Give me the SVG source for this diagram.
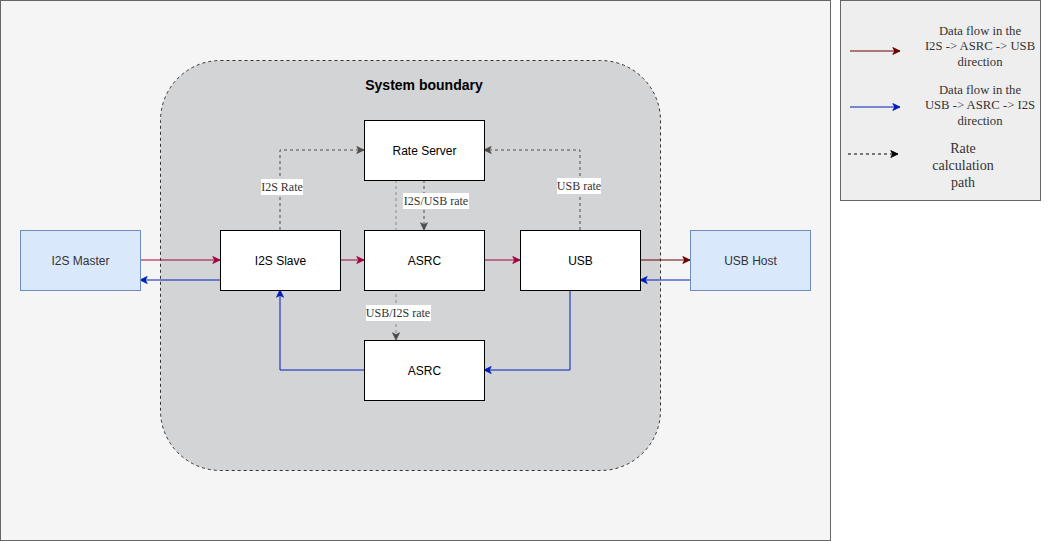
<svg xmlns="http://www.w3.org/2000/svg" width="1051" height="541" viewBox="0 0 1051 541">
<style>
.node rect{fill:#ffffff;stroke:#000000;stroke-width:1}
.ext rect{fill:#dae8fc;stroke:#6c8ebf;stroke-width:1}
.nt{font-family:"Liberation Sans",Arial,sans-serif;font-size:12px;fill:#000;text-anchor:middle;dominant-baseline:central}
.ext .nt{fill:#333}
.red{stroke:#A50040;stroke-width:1;fill:none}
.dred{stroke:#6F0000;stroke-width:1;fill:none}
.blue{stroke:#001DBC;stroke-width:1;fill:none}
.dash{stroke:#4d4d4d;stroke-width:1;fill:none;stroke-dasharray:3 3}
.dashl{stroke:#8a8a8a;stroke-width:1;fill:none;stroke-dasharray:3 3}
.el{font-family:"Liberation Serif","Times New Roman",serif;font-size:12px;fill:#333;text-anchor:middle;dominant-baseline:central}
.lg{font-family:"Liberation Serif","Times New Roman",serif;font-size:12.7px;fill:#333;text-anchor:middle}
.lgb{font-family:"Liberation Serif","Times New Roman",serif;font-size:14px;fill:#333;text-anchor:middle}
</style>
<defs>
<marker id="aRed" viewBox="0 0 10 10" refX="9" refY="5" markerWidth="9" markerHeight="9" markerUnits="userSpaceOnUse" orient="auto"><path d="M1,1.2 L9,5 L1,8.8 L3.2,5 Z" fill="#A50040" stroke="#A50040"/></marker>
<marker id="aDred" viewBox="0 0 10 10" refX="9" refY="5" markerWidth="9" markerHeight="9" markerUnits="userSpaceOnUse" orient="auto"><path d="M1,1.2 L9,5 L1,8.8 L3.2,5 Z" fill="#6F0000" stroke="#6F0000"/></marker>
<marker id="aBlue" viewBox="0 0 10 10" refX="9" refY="5" markerWidth="9" markerHeight="9" markerUnits="userSpaceOnUse" orient="auto"><path d="M1,1.2 L9,5 L1,8.8 L3.2,5 Z" fill="#001DBC" stroke="#001DBC"/></marker>
<marker id="aGray" viewBox="0 0 10 10" refX="9" refY="5" markerWidth="9" markerHeight="9" markerUnits="userSpaceOnUse" orient="auto"><path d="M1,1.2 L9,5 L1,8.8 L3.2,5 Z" fill="#4d4d4d" stroke="#4d4d4d"/></marker>
<marker id="aBlack" viewBox="0 0 10 10" refX="9" refY="5" markerWidth="9" markerHeight="9" markerUnits="userSpaceOnUse" orient="auto"><path d="M1,1.2 L9,5 L1,8.8 L3.2,5 Z" fill="#000" stroke="#000"/></marker>
</defs>

<g id="background">
<rect x="0.5" y="0.5" width="830" height="540" fill="#f5f5f5" stroke="#666666"/>
</g>
<g id="system-boundary">
<rect x="160.5" y="60.5" width="500" height="410" rx="60" ry="60" fill="#d3d4d6" stroke="#333333" stroke-dasharray="3 3"/>
<text x="424" y="85" font-family="'Liberation Sans',Arial,sans-serif" font-size="14" font-weight="bold" fill="#000" text-anchor="middle" dominant-baseline="central">System boundary</text>
</g>

<g id="connectors">
<path class="dashl" d="M396,180 V340" marker-end="url(#aGray)"/>
<path class="red" d="M140,260 H220" marker-end="url(#aRed)"/>
<path class="red" d="M340,260 H364" marker-end="url(#aRed)"/>
<path class="red" d="M484,260 H520" marker-end="url(#aRed)"/>
<path class="dred" d="M640,260 H690" marker-end="url(#aDred)"/>
<path class="blue" d="M220,280 H140" marker-end="url(#aBlue)"/>
<path class="blue" d="M690,280 H640" marker-end="url(#aBlue)"/>
<path class="blue" d="M570,290 V370 H484" marker-end="url(#aBlue)"/>
<path class="blue" d="M364,370 H280 V290" marker-end="url(#aBlue)"/>
<path class="dash" d="M280,230 V150 H364" marker-end="url(#aGray)"/>
<path class="dash" d="M580,230 V150 H484" marker-end="url(#aGray)"/>
<path class="dash" d="M424,180 V230" marker-end="url(#aGray)"/>
<rect x="261" y="179" width="42" height="16" fill="#fff"/>
<text class="el" x="282" y="187">I2S Rate</text>
<rect x="557" y="178" width="44" height="16" fill="#fff"/>
<text class="el" x="579" y="186">USB rate</text>
<rect x="403" y="193" width="66" height="16" fill="#fff"/>
<text class="el" x="436" y="201">I2S/USB rate</text>
<rect x="366" y="305" width="65" height="16" fill="#fff"/>
<text class="el" x="398" y="313">USB/I2S rate</text>
</g>

<g id="i2s-master" class="ext"><rect x="20.5" y="230.5" width="120" height="60"/><text class="nt" x="80.5" y="260.5">I2S Master</text></g>
<g id="i2s-slave" class="node"><rect x="220.5" y="230.5" width="120" height="60"/><text class="nt" x="280.5" y="260.5">I2S Slave</text></g>
<g id="asrc-top" class="node"><rect x="364.5" y="230.5" width="120" height="60"/><text class="nt" x="424.5" y="260.5">ASRC</text></g>
<g id="usb" class="node"><rect x="520.5" y="230.5" width="120" height="60"/><text class="nt" x="580.5" y="260.5">USB</text></g>
<g id="usb-host" class="ext"><rect x="690.5" y="230.5" width="120" height="60"/><text class="nt" x="750.5" y="260.5">USB Host</text></g>
<g id="rate-server" class="node"><rect x="364.5" y="120.5" width="120" height="60"/><text class="nt" x="424.5" y="150.5">Rate Server</text></g>
<g id="asrc-bottom" class="node"><rect x="364.5" y="340.5" width="120" height="60"/><text class="nt" x="424.5" y="370.5">ASRC</text></g>

<g id="legend">
<rect x="840.5" y="0.5" width="200" height="200" fill="#eeeeee" stroke="#666666"/>
<path class="dred" d="M850,51 H900" marker-end="url(#aDred)"/>
<text class="lg" x="980" y="34.5">Data flow in the</text>
<text class="lg" x="980" y="50">I2S -&gt; ASRC -&gt; USB</text>
<text class="lg" x="980" y="65.5">direction</text>
<path class="blue" d="M850,107 H900" marker-end="url(#aBlue)"/>
<text class="lg" x="980" y="93.5">Data flow in the</text>
<text class="lg" x="980" y="109">USB -&gt; ASRC -&gt; I2S</text>
<text class="lg" x="980" y="124.5">direction</text>
<path d="M848,154 H898" stroke="#000" stroke-width="1" fill="none" stroke-dasharray="3 3" marker-end="url(#aBlack)"/>
<text class="lgb" x="963" y="153">Rate</text>
<text class="lgb" x="963" y="170">calculation</text>
<text class="lgb" x="963" y="187">path</text>
</g>
</svg>
